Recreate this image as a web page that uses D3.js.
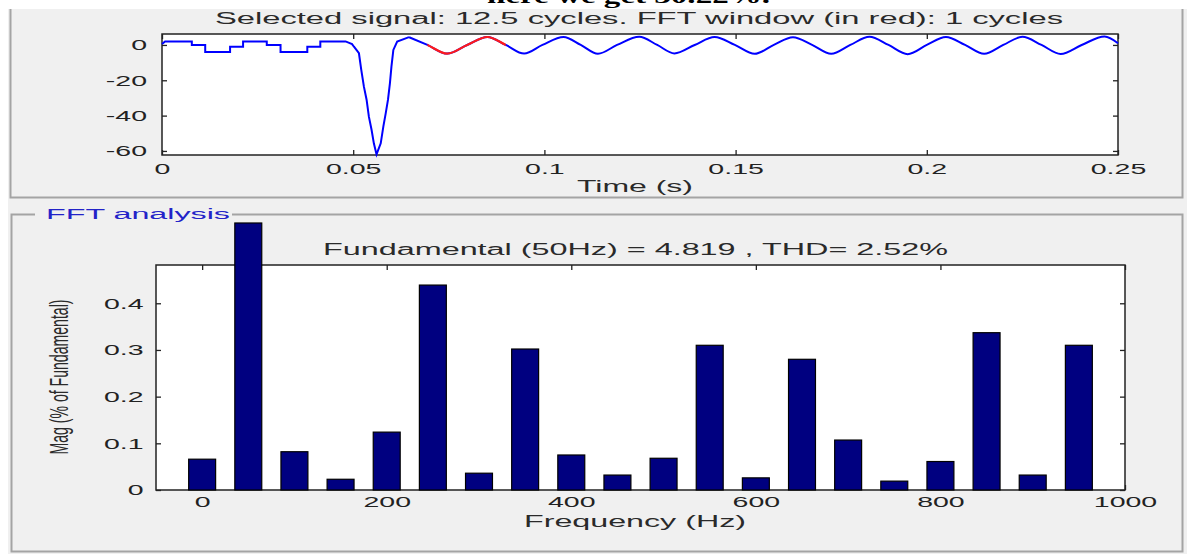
<!DOCTYPE html>
<html>
<head>
<meta charset="utf-8">
<script src="https://cdn.jsdelivr.net/npm/d3@7"></script>
<style>
  body { margin: 0; background: #fff; }
  svg { display: block; font-family: "Liberation Sans", Arial, sans-serif; }
</style>
</head>
<body>
<svg id="chart" width="1187" height="554"></svg>
<script>
// selected signal, part 1: stepped pre-sag level and the sag (time s, value)
var stepTime = [0, 0.0008, 0.0078, 0.0078, 0.0113, 0.0113, 0.0178, 0.0178, 0.0212, 0.0212, 0.0274, 0.0274, 0.031, 0.031,
  0.038, 0.038, 0.0414, 0.0414, 0.048, 0.0497, 0.0502, 0.0515, 0.0521, 0.0528, 0.0535, 0.0541, 0.0548, 0.0554, 0.0561,
  0.0572, 0.0579, 0.0585, 0.0591, 0.0596, 0.0600, 0.0605, 0.0615, 0.0646];
var stepValue = [0.5, 2, 2, 0, 0, -4, -4, -1, -1, 2, 2, 0, 0,
  -4, -4, -1, -1, 2, 2, 0.5, -1, -4.7, -14, -23.6, -31, -40.6, -48, -55.7, -62,
  -55.7, -46, -38.7, -31, -21.7, -12.3, -2.8, 1.9, 4.4];

// selected signal, part 2: the recovered 50 Hz wave (peaks, zero crossings, troughs)
var waveTime = [0.0646, 0.0694, 0.0746, 0.0798, 0.0851, 0.0899, 0.0947, 0.0995, 0.105, 0.1095, 0.114, 0.119,
  0.1248, 0.1295, 0.134, 0.1393, 0.1445, 0.1498, 0.155, 0.160, 0.165, 0.170, 0.175, 0.180, 0.185, 0.190,
  0.195, 0.200, 0.205, 0.210, 0.215, 0.220, 0.225, 0.230, 0.235, 0.2405, 0.2465, 0.25];
var waveValue = [4.4, 0, -4.9, 0, 4.5, 0, -4.9, 0, 4.5, 0, -5, 0,
  4.6, 0, -4.8, 0, 4.5, 0, -5, 0, 4.4, 0, -5, 0, 4.6, 0,
  -5.2, 0, 4.5, 0, -5, 0, 4.6, 0, -5.1, 0, 4.8, 1];

var fftWindow = [0.0694, 0.0899]; // 1 cycle shown in red
var timeTicks = [0, 0.05, 0.1, 0.15, 0.2, 0.25];
var signalTicks = [0, -20, -40, -60];

// FFT harmonic magnitudes (% of fundamental)
var freqs = [0, 50, 100, 150, 200, 250, 300, 350, 400, 450, 500, 550, 600, 650, 700, 750, 800, 850, 900, 950];
var mags = [0.066, 0.572, 0.082, 0.023, 0.124, 0.439, 0.036, 0.302, 0.075, 0.032,
  0.068, 0.310, 0.026, 0.280, 0.107, 0.019, 0.061, 0.337, 0.032, 0.310];
var freqTicks = [0, 200, 400, 600, 800, 1000];
var magTicks = [0, 0.1, 0.2, 0.3, 0.4];

var TEXT_STRETCH = 1.9; // screenshot is stretched sideways
var INK = "#222";

var svg = d3.select("#chart");

// window background + panels
svg.append("rect").attr("x", 8).attr("y", 9).attr("width", 1179).attr("height", 545).attr("fill", "#f0f0f0");

svg.append("text")
  .attr("x", 487).attr("y", 3)
  .attr("textLength", 283).attr("lengthAdjust", "spacingAndGlyphs")
  .style("font-family", "'Liberation Serif', 'Times New Roman', serif")
  .style("font-weight", "bold").style("font-size", "22px")
  .attr("fill", "#000")
  .text("here we get 30.22%.");

var border = "#a4a4a4";
svg.append("path")
  .attr("d", "M10.5,9 V197.5 H1182.5 V9")
  .attr("fill", "none").attr("stroke", border).attr("stroke-width", 2);
svg.append("path")
  .attr("d", "M35,214.5 H11.5 V551.5 H1182.5 V214.5 H232")
  .attr("fill", "none").attr("stroke", border).attr("stroke-width", 2);
svg.append("text")
  .attr("x", 46).attr("y", 218.5)
  .attr("textLength", 184).attr("lengthAdjust", "spacingAndGlyphs")
  .style("font-size", "14px").attr("fill", "#2323c8")
  .text("FFT analysis");

function styleAxis(g, labelX) {
  g.select(".domain").remove();
  g.selectAll(".tick line").attr("stroke", INK).attr("stroke-width", 1.3);
  var t = g.selectAll(".tick text")
    .attr("fill", INK)
    .style("font-size", "15px")
    .attr("transform", "scale(" + TEXT_STRETCH + ",1)");
  if (labelX !== undefined) t.attr("x", labelX / TEXT_STRETCH);
}

function wideText(x, y, len, size, str) {
  return svg.append("text")
    .attr("x", x).attr("y", y)
    .attr("text-anchor", "middle")
    .attr("textLength", len).attr("lengthAdjust", "spacingAndGlyphs")
    .style("font-size", size + "px").attr("fill", "#2a2a2a")
    .text(str);
}

// ---------- top: selected signal ----------
var top1 = { left: 162, right: 1118, top: 34, bottom: 155 };
var xTime = d3.scaleLinear().domain([0, 0.25]).range([top1.left, top1.right]);
var ySig = d3.scaleLinear().domain([-62.3, 6.2]).range([top1.bottom, top1.top]);

svg.append("rect")
  .attr("x", top1.left).attr("y", top1.top)
  .attr("width", top1.right - top1.left).attr("height", top1.bottom - top1.top)
  .attr("fill", "#fff").attr("stroke", INK).attr("stroke-width", 1.5);

wideText(639, 24, 848, 16, "Selected signal: 12.5 cycles. FFT window (in red): 1 cycles");
wideText(635, 192, 116, 16, "Time (s)");

svg.append("g").attr("transform", "translate(0," + top1.bottom + ")")
  .call(d3.axisBottom(xTime).tickValues(timeTicks).tickSizeInner(-5).tickSizeOuter(0).tickPadding(8).tickFormat(String))
  .call(styleAxis);
svg.append("g").attr("transform", "translate(0," + top1.top + ")")
  .call(d3.axisTop(xTime).tickValues(timeTicks).tickSizeInner(-5).tickSizeOuter(0).tickFormat(""))
  .call(styleAxis);
svg.append("g").attr("transform", "translate(" + top1.left + ",0)")
  .call(d3.axisLeft(ySig).tickValues(signalTicks).tickSizeInner(-5).tickSizeOuter(0).tickFormat(String))
  .call(styleAxis, -15);
svg.append("g").attr("transform", "translate(" + top1.right + ",0)")
  .call(d3.axisRight(ySig).tickValues(signalTicks).tickSizeInner(-5).tickSizeOuter(0).tickFormat(""))
  .call(styleAxis);

var stepLine = d3.line()
  .x(function(d, i) { return xTime(stepTime[i]); })
  .y(function(d) { return ySig(d); });
var waveLine = d3.line()
  .curve(d3.curveMonotoneX)
  .x(function(d, i) { return xTime(waveTime[i]); })
  .y(function(d) { return ySig(d); });

svg.append("path").attr("d", stepLine(stepValue))
  .attr("fill", "none").attr("stroke", "#0000ff").attr("stroke-width", 2);
svg.append("path").attr("d", waveLine(waveValue))
  .attr("fill", "none").attr("stroke", "#0000ff").attr("stroke-width", 2);

svg.append("clipPath").attr("id", "fftwin")
  .append("rect")
  .attr("x", xTime(fftWindow[0])).attr("y", top1.top)
  .attr("width", xTime(fftWindow[1]) - xTime(fftWindow[0])).attr("height", top1.bottom - top1.top);
svg.append("path").attr("d", waveLine(waveValue))
  .attr("clip-path", "url(#fftwin)")
  .attr("fill", "none").attr("stroke", "#ff1a1a").attr("stroke-width", 2.2);

// ---------- bottom: FFT bars ----------
var bot = { left: 156, right: 1125, top: 265, bottom: 490 };
var xFreq = d3.scaleLinear().domain([-50, 1000]).range([bot.left, bot.right]);
var yMag = d3.scaleLinear().domain([0, 0.482]).range([bot.bottom, bot.top]);
var barHalf = 14.6; // Hz

svg.append("rect")
  .attr("x", bot.left).attr("y", bot.top)
  .attr("width", bot.right - bot.left).attr("height", bot.bottom - bot.top)
  .attr("fill", "#fff").attr("stroke", INK).attr("stroke-width", 1.5);

wideText(635.5, 255, 625, 16, "Fundamental (50Hz) = 4.819 , THD= 2.52%");
wideText(635, 527, 222, 16, "Frequency (Hz)");

svg.append("text")
  .attr("transform", "translate(68,377) scale(" + TEXT_STRETCH + ",1) rotate(-90)")
  .attr("text-anchor", "middle")
  .attr("textLength", 155).attr("lengthAdjust", "spacingAndGlyphs")
  .style("font-size", "14px").attr("fill", "#2a2a2a")
  .text("Mag (% of Fundamental)");

svg.append("g").attr("transform", "translate(0," + bot.bottom + ")")
  .call(d3.axisBottom(xFreq).tickValues(freqTicks).tickSizeInner(-5).tickSizeOuter(0).tickPadding(6.5).tickFormat(String))
  .call(styleAxis);
svg.append("g").attr("transform", "translate(0," + bot.top + ")")
  .call(d3.axisTop(xFreq).tickValues(freqTicks).tickSizeInner(-5).tickSizeOuter(0).tickFormat(""))
  .call(styleAxis);
svg.append("g").attr("transform", "translate(" + bot.left + ",0)")
  .call(d3.axisLeft(yMag).tickValues(magTicks).tickSizeInner(-5).tickSizeOuter(0).tickFormat(String))
  .call(styleAxis, -12.5);
svg.append("g").attr("transform", "translate(" + bot.right + ",0)")
  .call(d3.axisRight(yMag).tickValues(magTicks).tickSizeInner(-5).tickSizeOuter(0).tickFormat(""))
  .call(styleAxis);

svg.append("g").selectAll("rect")
  .data(mags)
  .join("rect")
  .attr("x", function(d, i) { return xFreq(freqs[i] - barHalf); })
  .attr("width", function(d, i) { return xFreq(freqs[i] + barHalf) - xFreq(freqs[i] - barHalf); })
  .attr("y", function(d) { return yMag(d); })
  .attr("height", function(d) { return yMag(0) - yMag(d); })
  .attr("fill", "#000080")
  .attr("stroke", "#000").attr("stroke-width", 1.2);
</script>
</body>
</html>
